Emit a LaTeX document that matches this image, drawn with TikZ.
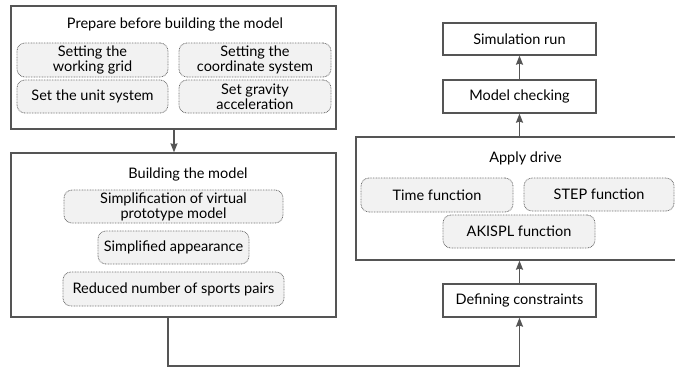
\documentclass[tikz,border=0pt]{standalone}
\usepackage{fontspec}
\setmainfont{Lato}
\usetikzlibrary{arrows.meta}
\definecolor{linec}{HTML}{555555}
\definecolor{dotc}{HTML}{707070}
\definecolor{fillc}{HTML}{F2F2F2}
\tikzset{
  outerbox/.style={draw=linec, line width=1.3pt, fill=white, inner sep=0pt},
  plainbox/.style={draw=linec, line width=1.3pt, fill=white, inner sep=0pt, font=\fontsize{14.5}{15}\selectfont},
  subbox/.style={draw=dotc, dash pattern=on 0.8pt off 0.8pt, line width=0.8pt, fill=fillc, rounded corners=8pt, inner sep=0pt, align=center, font=\fontsize{14.5}{15}\selectfont},
  titletext/.style={inner sep=0pt, font=\fontsize{14.5}{15}\selectfont},
  conn/.style={draw=linec, line width=1.3pt},
  arr/.style={conn, -{Stealth[length=9pt,width=7pt,inset=1pt]}}
}
\begin{document}
\begin{tikzpicture}[x=1pt,y=-1pt]
\useasboundingbox (0,0) rectangle (675,368);
% left column
\node[outerbox, minimum width=325pt, minimum height=123pt] (prep) at (173.5,67.5) {};
\node[titletext] (preptitle) at (175,24) {Prepare before building the model};
\node[subbox, minimum width=151pt, minimum height=34pt] (grid) at (92.5,60) {Setting the\\working grid};
\node[subbox, minimum width=152pt, minimum height=34pt] (coord) at (255,60) {Setting the\\coordinate system};
\node[subbox, minimum width=151pt, minimum height=33pt] (unit) at (92.5,96.5) {Set the unit system};
\node[subbox, minimum width=152pt, minimum height=33pt] (grav) at (255,96.5) {Set gravity\\acceleration};

\node[outerbox, minimum width=325pt, minimum height=164pt] (build) at (173.5,235) {};
\node[titletext] (buildtitle) at (188,174) {Building the model};
\node[subbox, minimum width=219pt, minimum height=33pt] (simp) at (173.5,206.5) {Simplification of virtual\\prototype model};
\node[subbox, minimum width=151pt, minimum height=33pt] (appear) at (173.5,247.5) {Simplified appearance};
\node[subbox, minimum width=221pt, minimum height=34pt] (pairs) at (173.5,289) {Reduced number of sports pairs};

% right column
\node[plainbox, minimum width=153pt, minimum height=32pt] (run) at (519.5,39) {Simulation run};
\node[plainbox, minimum width=153pt, minimum height=33pt] (check) at (519.5,96.5) {Model checking};
\node[outerbox, minimum width=325pt, minimum height=123pt] (drive) at (518.5,198.5) {};
\node[titletext] (drivetitle) at (525.5,158) {Apply drive};
\node[subbox, minimum width=152pt, minimum height=34pt] (time) at (437,195) {Time function};
\node[subbox, minimum width=150pt, minimum height=33pt] (stepf) at (599,194.5) {STEP function};
\node[subbox, minimum width=152pt, minimum height=33pt] (aki) at (519,231.5) {AKISPL function};
\node[plainbox, minimum width=153pt, minimum height=33pt] (cons) at (519.5,300.5) {Defining constraints};

\coordinate (c1) at (168,366);
\coordinate (c2) at (519.5,366);

\draw[arr] (prep.south -| 174,0) -- (build.north -| 174,0);
\draw[arr] (build.south -| c1) -- (c1) -- (c2) -- (cons.south);
\draw[arr] (cons.north) -- (drive.south -| cons.north);
\draw[arr] (drive.north -| check.south) -- (check.south);
\draw[arr] (check.north) -- (run.south);
\end{tikzpicture}
\end{document}
